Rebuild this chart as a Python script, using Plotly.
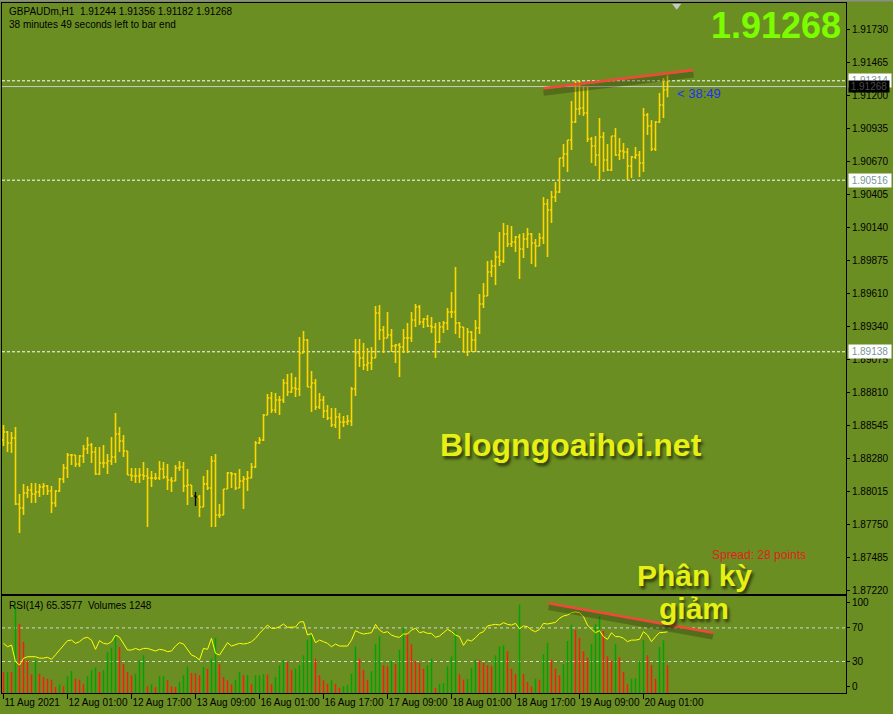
import plotly.graph_objects as go

# ---------------- data ----------------
symbol_title = "GBPAUDm,H1\u00a0\u00a01.91244 1.91356 1.91182 1.91268"
timer_text = "38 minutes 49 seconds left to bar end"

opens = [1.88430, 1.88494, 1.88406, 1.88446, 1.87916, 1.87884, 1.88004, 1.88028, 1.87996, 1.88012,
         1.88052, 1.88060, 1.88020, 1.87924, 1.88020, 1.88117, 1.88205, 1.88309, 1.88309, 1.88237,
         1.88301, 1.88357, 1.88390, 1.88333, 1.88157, 1.88245, 1.88245, 1.88261, 1.88293, 1.88478,
         1.88422, 1.88341, 1.88149, 1.88141, 1.88141, 1.88149, 1.88141, 1.88125, 1.88125, 1.88125,
         1.88197, 1.88133, 1.88109, 1.88101, 1.88205, 1.88213, 1.88060, 1.88068, 1.87980, 1.87972,
         1.87892, 1.88077, 1.88044, 1.88261, 1.87828, 1.87828, 1.88036, 1.88165, 1.88157, 1.88044,
         1.88101, 1.88117, 1.88125, 1.88213, 1.88406, 1.88430, 1.88631, 1.88767, 1.88671, 1.88751,
         1.88751, 1.88887, 1.88815, 1.88847, 1.88839, 1.89128, 1.89233, 1.88855, 1.88887, 1.88695,
         1.88751, 1.88663, 1.88606, 1.88550, 1.88614, 1.88574, 1.88574, 1.88582, 1.88839, 1.89128,
         1.89088, 1.89032, 1.89048, 1.89088, 1.89450, 1.89313, 1.89249, 1.89273, 1.89185, 1.89193,
         1.89177, 1.89249, 1.89249, 1.89393, 1.89498, 1.89377, 1.89401, 1.89345, 1.89337, 1.89217,
         1.89337, 1.89369, 1.89458, 1.89458, 1.89369, 1.89337, 1.89136, 1.89297, 1.89233, 1.89329,
         1.89522, 1.89586, 1.89779, 1.89827, 1.89899, 1.89867, 1.90084, 1.90004, 1.90020, 1.90060,
         1.89963, 1.90044, 1.90084, 1.90012, 1.89988, 1.90052, 1.90325, 1.90277, 1.90381, 1.90421,
         1.90694, 1.90726, 1.90839, 1.90983, 1.91088, 1.91096, 1.91056, 1.90847, 1.90791, 1.90718,
         1.90863, 1.90678, 1.90598, 1.90871, 1.90718, 1.90750, 1.90742, 1.90630, 1.90702, 1.90718,
         1.90654, 1.91040, 1.90951, 1.90767, 1.90983, 1.91120, 1.91244]
highs = [1.88550, 1.88502, 1.88494, 1.88534, 1.87996, 1.88077, 1.88060, 1.88085, 1.88085, 1.88077,
         1.88085, 1.88068, 1.88060, 1.88028, 1.88125, 1.88237, 1.88325, 1.88317, 1.88309, 1.88309,
         1.88390, 1.88454, 1.88406, 1.88374, 1.88374, 1.88390, 1.88317, 1.88454, 1.88647, 1.88534,
         1.88470, 1.88341, 1.88205, 1.88205, 1.88205, 1.88253, 1.88205, 1.88181, 1.88165, 1.88261,
         1.88253, 1.88237, 1.88133, 1.88229, 1.88261, 1.88253, 1.88197, 1.88068, 1.88012, 1.87988,
         1.88141, 1.88189, 1.88301, 1.88317, 1.87916, 1.88036, 1.88173, 1.88173, 1.88165, 1.88197,
         1.88141, 1.88181, 1.88245, 1.88422, 1.88454, 1.88639, 1.88799, 1.88815, 1.88807, 1.88783,
         1.88920, 1.88960, 1.88968, 1.88936, 1.89257, 1.89305, 1.89241, 1.88984, 1.88920, 1.88807,
         1.88783, 1.88711, 1.88687, 1.88687, 1.88647, 1.88623, 1.88631, 1.88855, 1.89241, 1.89241,
         1.89209, 1.89169, 1.89177, 1.89506, 1.89514, 1.89345, 1.89458, 1.89321, 1.89201, 1.89209,
         1.89321, 1.89369, 1.89458, 1.89522, 1.89514, 1.89409, 1.89433, 1.89417, 1.89369, 1.89377,
         1.89385, 1.89490, 1.89618, 1.89819, 1.89377, 1.89337, 1.89329, 1.89305, 1.89393, 1.89602,
         1.89690, 1.89867, 1.89875, 1.89947, 1.90100, 1.90172, 1.90156, 1.90148, 1.90068, 1.90084,
         1.90092, 1.90132, 1.90092, 1.90044, 1.90092, 1.90381, 1.90365, 1.90429, 1.90502, 1.90694,
         1.90807, 1.90839, 1.91152, 1.91314, 1.91314, 1.91264, 1.91264, 1.90863, 1.90871, 1.91015,
         1.90903, 1.90807, 1.90871, 1.90935, 1.90855, 1.90815, 1.90775, 1.90710, 1.90783, 1.90750,
         1.91096, 1.91056, 1.90999, 1.90991, 1.91216, 1.91337, 1.91356]
lows = [1.88382, 1.88333, 1.88325, 1.87908, 1.87683, 1.87828, 1.87964, 1.87924, 1.87924, 1.87972,
        1.87988, 1.87988, 1.87844, 1.87892, 1.88012, 1.88085, 1.88125, 1.88229, 1.88213, 1.88213,
        1.88245, 1.88317, 1.88245, 1.88149, 1.88149, 1.88205, 1.88157, 1.88229, 1.88245, 1.88333,
        1.88293, 1.88149, 1.88101, 1.88085, 1.88085, 1.88109, 1.87731, 1.88052, 1.88109, 1.88109,
        1.88117, 1.88028, 1.88012, 1.88101, 1.88181, 1.88012, 1.87908, 1.87972, 1.87900, 1.87812,
        1.87892, 1.88028, 1.87731, 1.87731, 1.87803, 1.87828, 1.88036, 1.88044, 1.88028, 1.88044,
        1.87876, 1.88020, 1.88125, 1.88205, 1.88398, 1.88422, 1.88631, 1.88647, 1.88647, 1.88631,
        1.88727, 1.88783, 1.88807, 1.88775, 1.88783, 1.89128, 1.88855, 1.88655, 1.88671, 1.88679,
        1.88606, 1.88590, 1.88534, 1.88526, 1.88438, 1.88534, 1.88550, 1.88542, 1.88783, 1.89016,
        1.88992, 1.88984, 1.88992, 1.89088, 1.89233, 1.89128, 1.89249, 1.89136, 1.89048, 1.88936,
        1.89128, 1.89128, 1.89217, 1.89337, 1.89353, 1.89329, 1.89337, 1.89289, 1.89088, 1.89209,
        1.89289, 1.89313, 1.89409, 1.89281, 1.89249, 1.89136, 1.89104, 1.89136, 1.89136, 1.89281,
        1.89490, 1.89586, 1.89739, 1.89674, 1.89827, 1.89851, 1.89980, 1.89980, 1.89939, 1.89723,
        1.89891, 1.89972, 1.89843, 1.89819, 1.89988, 1.90004, 1.89899, 1.90172, 1.90341, 1.90413,
        1.90622, 1.90582, 1.90759, 1.90975, 1.91040, 1.91031, 1.90823, 1.90654, 1.90630, 1.90516,
        1.90582, 1.90590, 1.90590, 1.90710, 1.90678, 1.90686, 1.90516, 1.90534, 1.90686, 1.90542,
        1.90582, 1.90879, 1.90750, 1.90750, 1.90975, 1.91015, 1.91182]
closes = [1.88494, 1.88406, 1.88446, 1.87916, 1.87884, 1.88004, 1.88028, 1.87996, 1.88012, 1.88052,
          1.88060, 1.88020, 1.87924, 1.88020, 1.88117, 1.88205, 1.88309, 1.88309, 1.88237, 1.88301,
          1.88357, 1.88390, 1.88333, 1.88157, 1.88245, 1.88245, 1.88261, 1.88293, 1.88478, 1.88422,
          1.88341, 1.88149, 1.88141, 1.88141, 1.88149, 1.88141, 1.88125, 1.88125, 1.88125, 1.88197,
          1.88133, 1.88109, 1.88101, 1.88205, 1.88213, 1.88060, 1.88068, 1.87980, 1.87972, 1.87892,
          1.88077, 1.88044, 1.88261, 1.87828, 1.87828, 1.88036, 1.88165, 1.88157, 1.88044, 1.88101,
          1.88117, 1.88125, 1.88213, 1.88406, 1.88430, 1.88631, 1.88767, 1.88671, 1.88751, 1.88751,
          1.88887, 1.88815, 1.88847, 1.88839, 1.89128, 1.89233, 1.88855, 1.88887, 1.88695, 1.88751,
          1.88663, 1.88606, 1.88550, 1.88614, 1.88574, 1.88574, 1.88582, 1.88839, 1.89128, 1.89088,
          1.89032, 1.89048, 1.89088, 1.89450, 1.89313, 1.89249, 1.89273, 1.89185, 1.89193, 1.89177,
          1.89249, 1.89249, 1.89393, 1.89498, 1.89377, 1.89401, 1.89345, 1.89337, 1.89217, 1.89337,
          1.89369, 1.89458, 1.89458, 1.89369, 1.89337, 1.89136, 1.89297, 1.89233, 1.89329, 1.89522,
          1.89586, 1.89779, 1.89827, 1.89899, 1.89867, 1.90084, 1.90004, 1.90020, 1.90060, 1.89963,
          1.90044, 1.90084, 1.90012, 1.89988, 1.90052, 1.90325, 1.90277, 1.90381, 1.90421, 1.90694,
          1.90726, 1.90839, 1.90983, 1.91088, 1.91096, 1.91056, 1.90847, 1.90791, 1.90718, 1.90863,
          1.90678, 1.90598, 1.90871, 1.90718, 1.90750, 1.90742, 1.90630, 1.90702, 1.90718, 1.90654,
          1.91040, 1.90951, 1.90767, 1.90983, 1.91120, 1.91240, 1.91268]
dark_bars = [48]

volumes = [945, 950, 940, 3945, 3120, 2295, 1470, 840, 1470, 870,
           720, 645, 600, 270, 375, 300, 750, 990, 645, 600,
           390, 750, 1020, 1140, 945, 1020, 1845, 2040, 2670, 2070,
           1290, 945, 795, 870, 1470, 1695, 300, 390, 270, 750,
           760, 570, 300, 270, 495, 795, 1200, 900, 890, 795,
           1170, 1095, 1545, 2490, 1290, 720, 570, 390, 600, 945,
           795, 810, 390, 795, 800, 840, 830, 390, 720, 1245,
           1500, 1395, 1020, 1095, 1245, 1700, 2400, 2600, 1545, 795,
           570, 420, 570, 420, 240, 300, 375, 870, 2100, 1545,
           1050, 600, 975, 2190, 2550, 1245, 1200, 1440, 1290, 1950,
           2940, 2670, 2190, 1440, 1350, 1095, 1245, 1545, 225, 420,
           450, 1200, 1650, 2775, 840, 600, 630, 1140, 1500, 1470,
           1350, 1245, 1200, 1695, 2100, 2150, 1875, 1095, 840, 3990,
           870, 495, 300, 645, 600, 1740, 2265, 1500, 1095, 795,
           1290, 2340, 3075, 2850, 2490, 1875, 1590, 2220, 3090, 3450,
           2790, 1650, 1440, 2190, 1620, 945, 390, 645, 660, 1440,
           2370, 1695, 1245, 645, 2070, 2370, 1248]

rsi = [51.6, 47.6, 49.6, 29.8, 25.8, 33.8, 35.7, 36.0, 35.7, 34.0,
       34.0, 35.0, 32.6, 38.0, 43.7, 49.6, 54.8, 55.5, 51.6, 53.6,
       57.6, 58.8, 55.5, 44.5, 54.8, 51.6, 50.8, 53.6, 61.5, 58.8,
       51.6, 43.7, 43.7, 45.6, 43.7, 45.6, 45.6, 44.5, 42.5, 44.5,
       43.7, 41.7, 42.5, 48.4, 52.4, 50.8, 43.7, 37.7, 35.7, 31.8,
       45.6, 44.5, 57.6, 39.7, 37.7, 45.6, 52.4, 48.4, 49.6, 51.6,
       50.8, 51.6, 53.6, 57.6, 63.5, 68.3, 73.4, 69.5, 69.5, 71.5,
       74.6, 70.7, 70.7, 71.0, 77.0, 77.4, 61.5, 63.5, 52.4, 55.5,
       53.6, 51.6, 47.6, 50.8, 48.4, 48.4, 48.4, 55.5, 66.7, 64.3,
       62.7, 63.5, 64.3, 74.2, 67.5, 64.3, 65.5, 61.5, 59.6, 58.8,
       62.7, 62.7, 67.5, 69.5, 64.3, 65.5, 63.5, 63.5, 58.8, 60.3,
       64.3, 68.3, 65.5, 61.5, 59.6, 49.2, 55.9, 54.4, 58.3, 63.5,
       65.5, 72.3, 73.4, 74.2, 73.4, 76.2, 74.2, 73.4, 75.4, 69.0,
       72.3, 71.5, 67.5, 65.5, 68.3, 75.4, 74.6, 75.4, 76.6, 81.4,
       84.2, 85.4, 88.1, 89.0, 88.1, 83.3, 73.4, 68.3, 64.3, 66.7,
       59.6, 56.4, 64.3, 59.6, 59.6, 57.6, 53.6, 55.5, 55.5, 56.4,
       65.5, 61.5, 53.6, 59.6, 64.3, 64.6, 65.3577]

date_tick_bars = [0, 16, 32, 48, 64, 80, 96, 112, 128, 144, 160]
date_tick_labels = ["11 Aug 2021", "12 Aug 01:00", "12 Aug 17:00", "13 Aug 09:00", "16 Aug 01:00",
                    "16 Aug 17:00", "17 Aug 09:00", "18 Aug 01:00", "18 Aug 17:00", "19 Aug 09:00",
                    "20 Aug 01:00"]
price_tick_labels = ["1.91730", "1.91465", "1.91200", "1.90935", "1.90670", "1.90405", "1.90140",
                     "1.89875", "1.89610", "1.89340", "1.89075", "1.88810", "1.88545", "1.88280",
                     "1.88015", "1.87750", "1.87485", "1.87220"]
rsi_ticks = [0, 30, 70, 100]
rsi_levels = [70, 30]

level_lines = [1.91314, 1.90516, 1.89138]
current_price = 1.91268
current_price_text = "1.91268"

# trend lines (bar index, value)
price_trend_x = [135.0, 172.5]
price_trend_y = [1.91254, 1.91401]
rsi_trend_x = [136.25, 177.35]
rsi_trend_y = [99.3, 64.3]

spread_text = "Spread: 28 points"
countdown_text = "< 38:49"
indicator_title = "RSI(14) 65.3577\u00a0\u00a0Volumes 1248"
watermark = "Blogngoaihoi.net"
note_line1 = "Phân kỳ"
note_line2 = "giảm"

# ---------------- style ----------------
BG = "#6B8E23"
BAR = "#FFD700"
VOL_UP = "#00A400"
VOL_DOWN = "#FF1A10"
FONT = "Liberation Sans, Arial, sans-serif"
W, H = 893, 714
ML, MR, MT, MB = 2, 47, 3, 21
PW, PH = W - ML - MR, H - MT - MB
BAR0 = 3.5  # pixel of first bar centre


def px_x(px):
    return (px - ML) / PW


def px_y(py):
    return (H - MB - py) / PH


n = len(closes)
idx = list(range(n))
price_ticks = [float(t) for t in price_tick_labels]

# volume histogram as thin vertical segments, coloured by change vs previous bar
up_x, up_y, dn_x, dn_y = [], [], [], []
for i in range(n):
    rising = i > 0 and volumes[i] > volumes[i - 1]
    xs, ys = (up_x, up_y) if rising else (dn_x, dn_y)
    xs += [i, i, None]
    ys += [0, volumes[i], None]

fig = go.Figure()

fig.add_trace(go.Scatter(x=up_x, y=up_y, mode="lines", line=dict(color=VOL_UP, width=1.5),
                         xaxis="x", yaxis="y2", hoverinfo="skip", showlegend=False))
fig.add_trace(go.Scatter(x=dn_x, y=dn_y, mode="lines", line=dict(color=VOL_DOWN, width=1.5),
                         xaxis="x", yaxis="y2", hoverinfo="skip", showlegend=False))
# RSI
fig.add_trace(go.Scatter(x=idx, y=rsi, mode="lines", line=dict(color="#FFFF00", width=1),
                         xaxis="x", yaxis="y3", hoverinfo="skip", showlegend=False))
# RSI trend line shadow + line
fig.add_trace(go.Scatter(x=rsi_trend_x, y=[v - 4.5 for v in rsi_trend_y], mode="lines",
                         line=dict(color="rgba(40,50,15,0.35)", width=6),
                         xaxis="x", yaxis="y3", hoverinfo="skip", showlegend=False))
fig.add_trace(go.Scatter(x=rsi_trend_x, y=rsi_trend_y, mode="lines",
                         line=dict(color="#F2483A", width=2.5),
                         xaxis="x", yaxis="y3", hoverinfo="skip", showlegend=False))

# price bars
fig.add_trace(go.Ohlc(x=idx, open=opens, high=highs, low=lows, close=closes,
                      increasing=dict(line=dict(color=BAR, width=1.6)),
                      decreasing=dict(line=dict(color=BAR, width=1.6)),
                      tickwidth=0.4, xaxis="x2", yaxis="y", hoverinfo="skip", showlegend=False))
fig.add_trace(go.Ohlc(x=dark_bars, open=[opens[i] for i in dark_bars], high=[highs[i] for i in dark_bars],
                      low=[lows[i] for i in dark_bars], close=[closes[i] for i in dark_bars],
                      increasing=dict(line=dict(color="#000000", width=1.6)),
                      decreasing=dict(line=dict(color="#000000", width=1.6)),
                      tickwidth=0.4, xaxis="x2", yaxis="y", hoverinfo="skip", showlegend=False))
# price trend line shadow + line
fig.add_trace(go.Scatter(x=price_trend_x, y=[v - 0.00036 for v in price_trend_y], mode="lines",
                         line=dict(color="rgba(40,50,15,0.35)", width=6),
                         xaxis="x2", yaxis="y", hoverinfo="skip", showlegend=False))
fig.add_trace(go.Scatter(x=price_trend_x, y=price_trend_y, mode="lines",
                         line=dict(color="#F2483A", width=2.5),
                         xaxis="x2", yaxis="y", hoverinfo="skip", showlegend=False))
# shift marker
fig.add_trace(go.Scatter(x=[168.3], y=[1.91916], mode="markers",
                         marker=dict(symbol="triangle-down", size=8, color="#C8C8C8", line=dict(width=0)),
                         xaxis="x2", yaxis="y", hoverinfo="skip", showlegend=False))

X0 = (ML - BAR0) / 4
X1 = (ML + PW - BAR0) / 4
main_bottom = px_y(593.5)
rsi_top = px_y(595.5)

price_lo = 1.919629 - 0.0000803 * 593.5
price_hi = 1.919629 - 0.0000803 * MT
rsi_lo = (686.7 - (H - MB)) / 0.84
rsi_hi = (686.7 - 595.5) / 0.84

tickfont = dict(family=FONT, size=10, color="#000000")

fig.update_layout(
    width=W, height=H, autosize=False,
    margin=dict(l=ML, r=MR, t=MT, b=MB, pad=0, autoexpand=False),
    paper_bgcolor=BG, plot_bgcolor=BG,
    hovermode=False, showlegend=False, dragmode=False,
    xaxis=dict(domain=[0, 1], anchor="y2", range=[X0, X1], tickmode="array",
               tickvals=date_tick_bars, ticktext=date_tick_labels, tickangle=0, automargin=False,
               ticks="outside", ticklen=5, tickcolor="#000000", tickwidth=1,
               ticklabelposition="outside right", tickfont=tickfont,
               showline=True, mirror=True, linecolor="#000000", linewidth=1,
               showgrid=False, zeroline=False, rangeslider=dict(visible=False), fixedrange=True),
    xaxis2=dict(domain=[0, 1], anchor="y", matches="x", showticklabels=False, ticks="", automargin=False,
                showline=True, mirror=True, linecolor="#000000", linewidth=1,
                showgrid=False, zeroline=False, rangeslider=dict(visible=False), fixedrange=True),
    yaxis=dict(domain=[main_bottom, 1], anchor="x2", side="right", range=[price_lo, price_hi],
               tickmode="array", tickvals=price_ticks, ticktext=price_tick_labels, automargin=False,
               ticks="outside", ticklen=3, tickcolor="#000000", tickfont=tickfont,
               showline=True, mirror=True, linecolor="#000000", linewidth=1,
               showgrid=False, zeroline=False, fixedrange=True),
    yaxis2=dict(domain=[0, rsi_top], anchor="x", range=[0, 4390], showticklabels=False, ticks="",
                automargin=False,
                showline=True, mirror=True, linecolor="#000000", linewidth=1,
                showgrid=False, zeroline=False, fixedrange=True),
    yaxis3=dict(overlaying="y2", anchor="x", side="right", range=[rsi_lo, rsi_hi], automargin=False,
                tickmode="array", tickvals=rsi_ticks, ticktext=[str(t) for t in rsi_ticks],
                ticks="outside", ticklen=3, tickcolor="#000000", tickfont=tickfont,
                showline=False, showgrid=False, zeroline=False, fixedrange=True),
)

shapes = []
# window top strip
shapes.append(dict(type="rect", xref="paper", yref="paper", x0=px_x(0), x1=px_x(W),
                   y0=px_y(1.5), y1=px_y(0), fillcolor="#8C8C8C", line=dict(width=0), layer="above"))
for lv in level_lines:
    shapes.append(dict(type="line", xref="x2 domain", yref="y", x0=0, x1=1, y0=lv, y1=lv,
                       line=dict(color="#FFFFFF", width=1, dash="3px,2px"), layer="below"))
shapes.append(dict(type="line", xref="x2 domain", yref="y", x0=0, x1=1, y0=current_price, y1=current_price,
                   line=dict(color="#C8C8C8", width=1), layer="below"))
for lv in rsi_levels:
    shapes.append(dict(type="line", xref="x domain", yref="y3", x0=0, x1=1, y0=lv, y1=lv,
                       line=dict(color="#D6D6D6", width=1, dash="3px,3px"), layer="below"))
fig.update_layout(shapes=shapes)

ann = []
ann.append(dict(xref="paper", yref="paper", x=px_x(7), y=px_y(11), xanchor="left", yanchor="middle",
                text=symbol_title, showarrow=False, font=dict(family=FONT, size=10, color="#000000")))
ann.append(dict(xref="paper", yref="paper", x=px_x(7), y=px_y(25), xanchor="left", yanchor="middle",
                text=timer_text, showarrow=False, font=dict(family=FONT, size=10, color="#000000")))
ann.append(dict(xref="paper", yref="paper", x=px_x(7), y=px_y(605), xanchor="left", yanchor="middle",
                text=indicator_title, showarrow=False, font=dict(family=FONT, size=10, color="#000000")))
ann.append(dict(xref="paper", yref="paper", x=px_x(843), y=px_y(26), xanchor="right", yanchor="middle",
                text="<b>" + current_price_text + "</b>", showarrow=False,
                font=dict(family=FONT, size=36, color="#7CFC00")))
ann.append(dict(xref="x2", yref="y", x=167.8, y=1.91216, xanchor="left", yanchor="middle",
                text=countdown_text, showarrow=False, font=dict(family=FONT, size=13, color="#1E32F0")))
ann.append(dict(xref="paper", yref="paper", x=px_x(710), y=px_y(555), xanchor="left", yanchor="middle",
                text=spread_text, showarrow=False, font=dict(family=FONT, size=12, color="#E01E1E")))
txt_shadow = "2px 3px 3px rgba(35,45,10,0.85)"
ann.append(dict(xref="paper", yref="paper", x=px_x(571), y=px_y(445), xanchor="center", yanchor="middle",
                text="<b>" + watermark + "</b>", showarrow=False,
                font=dict(family=FONT, size=32, color="#E6F014", shadow=txt_shadow)))
ann.append(dict(xref="paper", yref="paper", x=px_x(694), y=px_y(575), xanchor="center", yanchor="middle",
                text="<b>" + note_line1 + "</b>", showarrow=False,
                font=dict(family=FONT, size=30, color="#E6F014", shadow=txt_shadow)))
ann.append(dict(xref="paper", yref="paper", x=px_x(694), y=px_y(608), xanchor="center", yanchor="middle",
                text="<b>" + note_line2 + "</b>", showarrow=False,
                font=dict(family=FONT, size=30, color="#E6F014", shadow=txt_shadow)))
# price labels on the axis
for lv in level_lines:
    ann.append(dict(xref="paper", yref="y", x=px_x(848), y=lv, xanchor="left", yanchor="middle",
                    text=f"{lv:.5f}", showarrow=False, bgcolor="#FFFFFF", borderpad=1, width=40,
                    font=dict(family=FONT, size=10, color="#7A9696")))
ann.append(dict(xref="paper", yref="y", x=px_x(848), y=current_price - 0.00003, xanchor="left", yanchor="middle",
                text=current_price_text, showarrow=False, bgcolor="#000000", borderpad=0, width=40,
                font=dict(family=FONT, size=10, color="#4A4A4A")))
fig.update_layout(annotations=ann)

reset_page = ("document.documentElement.style.margin='0';document.body.style.margin='0';"
              "document.body.style.padding='0';document.body.style.overflow='hidden';")
fig.write_html("out.html", config={"displayModeBar": False, "staticPlot": True}, post_script=reset_page)
